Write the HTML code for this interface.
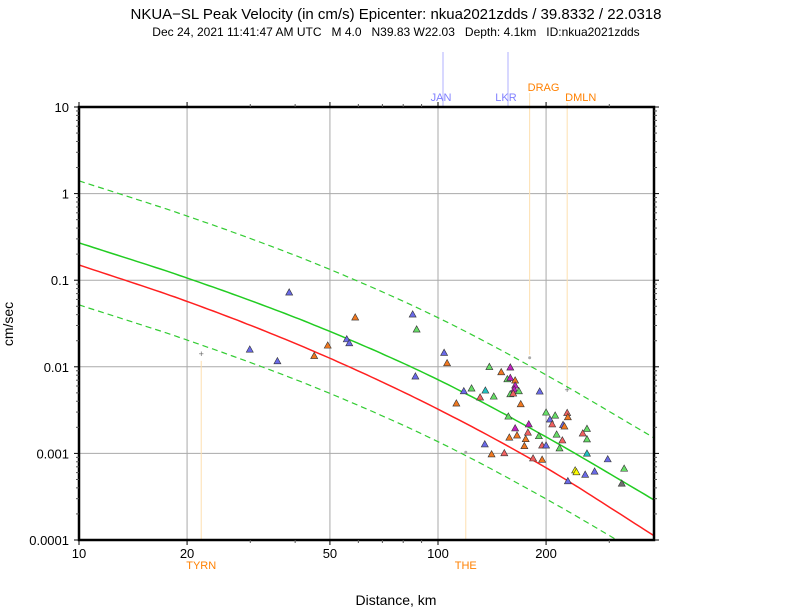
<!DOCTYPE html>
<html><head><meta charset="utf-8"><style>
body{margin:0;background:#fff;}
svg{display:block;font-family:"Liberation Sans",sans-serif;}
</style></head><body>
<svg id="chart" width="792" height="612">
<text x="396" y="19" text-anchor="middle" font-size="15">NKUA−SL Peak Velocity (in cm/s) Epicenter: nkua2021zdds / 39.8332 / 22.0318</text>
<text x="396" y="36" text-anchor="middle" font-size="12" style="white-space:pre">Dec 24, 2021 11:41:47 AM UTC   M 4.0   N39.83 W22.03   Depth: 4.1km   ID:nkua2021zdds</text>
<text transform="translate(13,324) rotate(-90)" text-anchor="middle" font-size="14">cm/sec</text>
<text x="396" y="605" text-anchor="middle" font-size="14">Distance, km</text>
<g id="grid"></g><g id="stations"></g><g id="curves"></g><g id="points"></g><g id="axes"></g>
</svg>
<script>
const curveDist=[10,20,50,100,200,400];
const meanCurve=[0.27,0.106,0.0256,0.0071,0.00155,0.00029];
const redCurve=[0.15,0.0569,0.01254,0.00324,0.000682,0.000112];
const bandFactor=5.2;
const ptDist=[85,87.2,104,106,86.5,139,150,159,156,159,164,164,163,168,159,162,192,118,124,135.5,131,143,112.5,170,157,200,212,205,229,230,208,223,225,179,164,178,260,253,214,158,166,191,175.5,222,260,135,174,195,200,218,260,141,153,184,195,297,241,243,257,273,330,230,325,38.5,29.9,35.7,49.3,45.2,55.7,56.6,58.8];
const ptVal=[0.0404,0.0271,0.01456,0.01107,0.00777,0.01,0.0087,0.00987,0.00723,0.00748,0.00699,0.00611,0.0055,0.00526,0.00485,0.00494,0.00521,0.00526,0.00565,0.00535,0.00445,0.00456,0.00379,0.00372,0.00268,0.00298,0.00275,0.00248,0.00295,0.00263,0.00218,0.00214,0.00206,0.00218,0.00196,0.00175,0.00193,0.00171,0.00166,0.00153,0.00162,0.00159,0.00147,0.00142,0.00146,0.00128,0.00122,0.00124,0.00124,0.00115,0.001,0.00098,0.00101,0.00088,0.00085,0.00086,0.00064,0.00061,0.00057,0.00062,0.00067,0.00048,0.00045,0.0725,0.0159,0.01167,0.0177,0.0134,0.0209,0.0188,0.0373];
const ptColor=["b","g","b","o","b","g","o","m","g","m","o","m","m","g","g","s","b","b","g","c","s","g","o","o","g","g","g","b","s","o","s","b","o","m","m","s","g","s","g","o","o","g","o","s","g","b","o","s","b","g","c","o","s","s","o","b","y","y","b","b","g","b","k","b","b","b","o","o","b","b","o"];
const stationNames=["TYRN","DRAG","DMLN","THE"];
const stationDist=[21.9,180,229,119.5];
const stationVal=[0.0141,0.0127,0.0054,0.00103];
const xTicks=[10,20,50,100,200];
const yTicks=[10,1,0.1,0.01,0.001,0.0001];
const yTickLabels=["10","1","0.1","0.01","0.001","0.0001"];

const NS="http://www.w3.org/2000/svg";
const L=79,R=654,T=107,B=540;
const X=d=>L+359*(Math.log10(d)-1);
const Y=v=>T+86.6*(1-Math.log10(v));
function mk(parent,tag,attrs){const e=document.createElementNS(NS,tag);for(const k in attrs)e.setAttribute(k,attrs[k]);document.getElementById(parent).appendChild(e);return e;}
const cols={b:"#6a6ae8",g:"#66dd66",o:"#f07820",m:"#c020c0",s:"#f06060",c:"#20c0c0",y:"#ffff00",k:"#707070"};

xTicks.slice(1).forEach(d=>{const e=mk("grid","line",{x1:X(d),x2:X(d),y1:T,y2:B,stroke:"#aaa","stroke-width":1});

});
yTicks.slice(1,-1).forEach(v=>{const e=mk("grid","line",{x1:L,x2:R,y1:Y(v),y2:Y(v),stroke:"#aaa","stroke-width":1});

});

[["JAN",443,"#8080ff"],["LKR",508,"#8080ff"]].forEach(s=>{
const l=mk("stations","line",{x1:s[1],x2:s[1],y1:52,y2:T,stroke:"#b0b0ff","stroke-width":1});


const t=mk("stations","text",{x:s[1]-2,y:101,"text-anchor":"middle","font-size":11,fill:s[2]});t.textContent=s[0];

});
stationNames.forEach((n,i)=>{
const x=X(stationDist[i]),y=Y(stationVal[i]);
const below=(n==="TYRN"||n==="THE");
const l=mk("stations","line",below?{x1:x,x2:x,y1:y+7,y2:B}:{x1:x,x2:x,y1:(n==="DRAG"?93:103),y2:y-3});
l.setAttribute("stroke","#fde0b0");l.setAttribute("stroke-width","1");


const t=mk("stations","text",{x:below?x:x-2,y:below?569:(n==="DRAG"?91:101),"text-anchor":below?"middle":"start","font-size":11,fill:"#ff8000"});
t.textContent=n;


const m=(n==="TYRN"||n==="DMLN")?mk("stations","text",{x:x,y:y+3,"text-anchor":"middle","font-size":9,fill:"#666"}):mk("stations","circle",{cx:x,cy:y,r:1.5,fill:"#aaa"});
if(m.tagName==="text")m.textContent="+";

});

function path(vals,f){
const lx=curveDist.map(d=>Math.log10(d)),ly=vals.map(v=>Math.log10(v*f));
const n=lx.length,sl=[],m=[];
for(let i=0;i<n-1;i++)sl.push((ly[i+1]-ly[i])/(lx[i+1]-lx[i]));
for(let i=0;i<n;i++)m.push(i===0?sl[0]:i===n-1?sl[n-2]:(sl[i-1]*(lx[i+1]-lx[i])+sl[i]*(lx[i]-lx[i-1]))/(lx[i+1]-lx[i-1]));
let s="";const N=120;
for(let k=0;k<=N;k++){const x=lx[0]+k/N*(lx[n-1]-lx[0]);
let j=0;while(j<n-2&&x>lx[j+1])j++;
const h=lx[j+1]-lx[j],t=(x-lx[j])/h;
const y=(2*t*t*t-3*t*t+1)*ly[j]+(t*t*t-2*t*t+t)*h*m[j]+(-2*t*t*t+3*t*t)*ly[j+1]+(t*t*t-t*t)*h*m[j+1];
s+=(k?"L":"M")+X(Math.pow(10,x)).toFixed(1)+","+Y(Math.pow(10,y)).toFixed(1);}
return s;}
const cp=document.createElementNS(NS,"clipPath");cp.setAttribute("id","clip");const cr=document.createElementNS(NS,"rect");
cr.setAttribute("x",L);cr.setAttribute("y",T);cr.setAttribute("width",R-L);cr.setAttribute("height",B-T);cp.appendChild(cr);document.getElementById("chart").appendChild(cp);
document.getElementById("curves").setAttribute("clip-path","url(#clip)");
const c1=mk("curves","path",{d:path(meanCurve,bandFactor),fill:"none",stroke:"#33cc33","stroke-width":1.2,"stroke-dasharray":"6,4"});


const c2=mk("curves","path",{d:path(meanCurve,1/bandFactor),fill:"none",stroke:"#33cc33","stroke-width":1.2,"stroke-dasharray":"6,4"});


const c3=mk("curves","path",{d:path(meanCurve,1),fill:"none",stroke:"#22cc22","stroke-width":1.5});


const c4=mk("curves","path",{d:path(redCurve,1),fill:"none",stroke:"#ff2020","stroke-width":1.5});



ptDist.forEach((d,i)=>{const x=X(d),y=Y(ptVal[i]);
const p=mk("points","polygon",{points:`${x-3.5},${y+2.8} ${x+3.5},${y+2.8} ${x},${y-3.5}`,fill:cols[ptColor[i]],stroke:"#333","stroke-width":0.6});

});

const fr=mk("axes","rect",{x:L,y:T,width:R-L,height:B-T,fill:"none",stroke:"#000","stroke-width":2.5});


yTicks.forEach((v,i)=>{const y=Y(v);mk("axes","line",{x1:L-5,x2:L,y1:y,y2:y,stroke:"#000"});mk("axes","line",{x1:R,x2:R+5,y1:y,y2:y,stroke:"#000"});
const t=mk("axes","text",{x:L-10,y:y+5,"text-anchor":"end","font-size":13});t.textContent=yTickLabels[i];


if(i<yTicks.length-1)[2,3,4,5,6,7,8,9].forEach(m=>{const yy=Y(v/10*m);mk("axes","line",{x1:L-3,x2:L,y1:yy,y2:yy,stroke:"#555"});mk("axes","line",{x1:R,x2:R+3,y1:yy,y2:yy,stroke:"#555"});});});
xTicks.forEach(d=>{const x=X(d);mk("axes","line",{x1:x,x2:x,y1:B,y2:B+5,stroke:"#000"});mk("axes","line",{x1:x,x2:x,y1:T-5,y2:T,stroke:"#000"});
const t=mk("axes","text",{x:x,y:B+18,"text-anchor":"middle","font-size":13});t.textContent=String(d);

});
[30,40,60,70,80,90,300].forEach(d=>{const x=X(d);mk("axes","line",{x1:x,x2:x,y1:B,y2:B+3,stroke:"#555"});mk("axes","line",{x1:x,x2:x,y1:T-3,y2:T,stroke:"#555"});});
</script>
</body></html>
